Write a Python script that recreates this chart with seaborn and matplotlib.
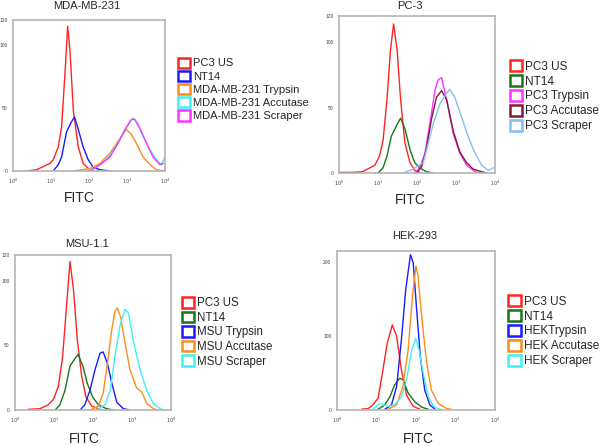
import numpy as np
import pandas as pd
import matplotlib
matplotlib.use('Agg')
import matplotlib.pyplot as plt
from matplotlib.patches import Rectangle
from matplotlib.ticker import FixedLocator, MultipleLocator, LogLocator, NullFormatter
import seaborn as sns

sns.set_style('white')
plt.rcParams['font.family'] = ['Liberation Sans', 'DejaVu Sans']

# ---- datos (x en log10 de FITC, y en número de células) ----
# MDA-MB-231
mda_us_x = [0.36, 0.62, 0.97, 1.06, 1.19, 1.28, 1.37, 1.44, 1.50, 1.59, 1.72, 1.85, 1.98, 2.11]
mda_us_y = [0, 1, 6, 9, 19, 35, 78, 115, 96, 48, 19, 6, 2, 0]
mda_nt_x = [1.06, 1.19, 1.28, 1.41, 1.52, 1.62, 1.72, 1.85, 1.98, 2.11, 2.29, 2.55]
mda_nt_y = [0, 5, 11, 31, 38, 43, 33, 19, 9, 3, 1, 0]
mda_try_x = [1.59, 2.03, 2.29, 2.55, 2.82, 2.99, 3.12, 3.25, 3.43, 3.61, 3.78, 4.0]
mda_try_y = [0, 2, 6, 14, 26, 33, 29, 22, 11, 5, 1, 0]
mda_acc_x = [1.94, 2.20, 2.46, 2.68, 2.90, 3.08, 3.17, 3.30, 3.43, 3.61, 3.78, 3.91, 4.0]
mda_acc_y = [0, 3, 9, 18, 30, 39, 42, 37, 27, 17, 9, 5, 11]
mda_scr_x = [2.03, 2.29, 2.55, 2.77, 2.95, 3.12, 3.21, 3.34, 3.52, 3.69, 3.87, 3.96]
mda_scr_y = [0, 5, 11, 22, 33, 41, 41, 34, 22, 11, 5, 6]

# PC-3
pc3_us_x = [0.02, 0.32, 0.60, 0.92, 1.04, 1.13, 1.23, 1.32, 1.40, 1.49, 1.58, 1.69, 1.82, 1.94, 2.07]
pc3_us_y = [0.5, 0.5, 1, 6, 13, 25, 56, 94, 114, 94, 56, 23, 8, 2, 0.5]
pc3_nt_x = [1.0, 1.13, 1.23, 1.34, 1.47, 1.58, 1.69, 1.82, 1.94, 2.07, 2.24, 2.42]
pc3_nt_y = [0, 4, 13, 28, 36, 42, 34, 18, 8, 4, 1, 0]
pc3_try_x = [1.94, 2.07, 2.20, 2.33, 2.46, 2.54, 2.63, 2.76, 2.93, 3.10, 3.27, 3.49, 3.61]
pc3_try_y = [0, 4, 15, 38, 63, 71, 73, 56, 30, 15, 6, 1, 0]
pc3_acc_x = [1.99, 2.12, 2.24, 2.37, 2.50, 2.63, 2.76, 2.93, 3.10, 3.27, 3.44, 3.66, 3.79]
pc3_acc_y = [0, 5, 18, 41, 58, 63, 56, 32, 16, 8, 3, 1, 0]
pc3_scr_x = [1.64, 1.90, 2.16, 2.29, 2.42, 2.59, 2.76, 2.84, 2.97, 3.14, 3.31, 3.49, 3.66, 3.83, 3.96]
pc3_scr_y = [0, 3, 8, 23, 38, 53, 61, 64, 58, 43, 28, 15, 6, 2, 4]

# MSU-1.1
msu_us_x = [0.34, 0.64, 0.85, 0.98, 1.11, 1.22, 1.32, 1.41, 1.50, 1.60, 1.71, 1.82, 1.97, 2.18]
msu_us_y = [0.5, 1, 4, 8, 18, 41, 80, 115, 93, 54, 26, 10, 3, 0.5]
msu_nt_x = [1.03, 1.15, 1.28, 1.41, 1.54, 1.62, 1.74, 1.85, 1.99, 2.14, 2.35, 2.52]
msu_nt_y = [0, 4, 15, 34, 40, 43, 34, 21, 10, 4, 1, 0]
msu_try_x = [1.67, 1.79, 1.92, 2.05, 2.18, 2.26, 2.37, 2.48, 2.61, 2.78, 2.95]
msu_try_y = [0, 4, 15, 31, 44, 45, 36, 21, 6, 1, 0]
msu_acc_x = [1.92, 2.14, 2.26, 2.37, 2.48, 2.56, 2.62, 2.71, 2.82, 2.95, 3.12, 3.25, 3.38, 3.55, 3.68]
msu_acc_y = [0, 3, 13, 36, 62, 76, 79, 72, 52, 31, 17, 14, 5, 1, 0]
msu_scr_x = [2.09, 2.31, 2.44, 2.56, 2.69, 2.82, 2.91, 3.03, 3.21, 3.38, 3.55, 3.72, 3.80]
msu_scr_y = [0, 4, 15, 41, 65, 78, 75, 54, 31, 15, 5, 1, 0]

# HEK-293
hek_us_x = [0.62, 0.79, 0.91, 1.04, 1.15, 1.27, 1.40, 1.51, 1.63, 1.76, 1.93, 2.10]
hek_us_y = [1, 2, 7, 16, 50, 90, 115, 100, 54, 20, 5, 1]
hek_nt_x = [1.04, 1.21, 1.34, 1.46, 1.59, 1.67, 1.80, 1.97, 2.14, 2.31]
hek_nt_y = [1, 7, 18, 34, 43, 41, 23, 11, 4, 1]
hek_try_x = [1.21, 1.38, 1.51, 1.63, 1.74, 1.86, 1.93, 2.01, 2.11, 2.22, 2.35, 2.48]
hek_try_y = [1, 7, 32, 95, 163, 210, 199, 140, 72, 27, 7, 1]
hek_acc_x = [1.29, 1.51, 1.67, 1.80, 1.91, 2.00, 2.05, 2.16, 2.27, 2.39, 2.56, 2.77, 2.90]
hek_acc_y = [1, 7, 32, 81, 154, 195, 181, 118, 63, 27, 9, 2, 1]
hek_scr_x = [0.91, 1.08, 1.17, 1.29, 1.46, 1.63, 1.76, 1.89, 1.99, 2.08, 2.18, 2.31, 2.44, 2.60]
hek_scr_y = [1, 9, 7, 5, 7, 18, 41, 81, 97, 81, 50, 18, 5, 1]

ROJO = '#ff2424'
AZUL = '#1a1aff'
NARANJA = '#ff8c1a'
CIAN = '#3ff0f5'
MAGENTA = '#ff33ff'
VERDE = '#1a741a'
GRANATE = '#7a1f3d'
CELESTE = '#85bdf2'

ANCHO, ALTO = 600, 446

PANELES = [
    {
        'titulo': 'MDA-MB-231', 'titulo_px': (87, 6), 'fitc_px': (79, 198),
        'pos': [0.0217, 0.6166, 0.253, 0.3386],
        'ymax': 120, 'ymaj': [0, 50, 100, 120], 'ymin': 10,
        'leyenda': (0.297, 0.871), 'tam_ley': 8.0,
        'series': [
            ('PC3 US', mda_us_x, mda_us_y, ROJO),
            ('NT14', mda_nt_x, mda_nt_y, AZUL),
            ('MDA-MB-231 Trypsin', mda_try_x, mda_try_y, NARANJA),
            ('MDA-MB-231 Accutase', mda_acc_x, mda_acc_y, CIAN),
            ('MDA-MB-231 Scraper', mda_scr_x, mda_scr_y, MAGENTA),
        ],
    },
    {
        'titulo': 'PC-3', 'titulo_px': (410, 6), 'fitc_px': (410, 200),
        'pos': [0.565, 0.612, 0.26, 0.352],
        'ymax': 120, 'ymaj': [0, 50, 100, 120], 'ymin': 10,
        'leyenda': (0.85, 0.865), 'tam_ley': 8.5,
        'series': [
            ('PC3 US', pc3_us_x, pc3_us_y, ROJO),
            ('NT14', pc3_nt_x, pc3_nt_y, VERDE),
            ('PC3 Trypsin', pc3_try_x, pc3_try_y, MAGENTA),
            ('PC3 Accutase', pc3_acc_x, pc3_acc_y, GRANATE),
            ('PC3 Scraper', pc3_scr_x, pc3_scr_y, CELESTE),
        ],
    },
    {
        'titulo': 'MSU-1.1', 'titulo_px': (87, 244), 'fitc_px': (84, 439),
        'pos': [0.025, 0.0807, 0.26, 0.3475],
        'ymax': 120, 'ymaj': [0, 50, 100, 120], 'ymin': 10,
        'leyenda': (0.303, 0.334), 'tam_ley': 8.3,
        'series': [
            ('PC3 US', msu_us_x, msu_us_y, ROJO),
            ('NT14', msu_nt_x, msu_nt_y, VERDE),
            ('MSU Trypsin', msu_try_x, msu_try_y, AZUL),
            ('MSU Accutase', msu_acc_x, msu_acc_y, NARANJA),
            ('MSU Scraper', msu_scr_x, msu_scr_y, CIAN),
        ],
    },
    {
        'titulo': 'HEK-293', 'titulo_px': (415, 236), 'fitc_px': (418, 439),
        'pos': [0.5617, 0.0807, 0.2633, 0.3565],
        'ymax': 215, 'ymaj': [0, 100, 200], 'ymin': 20,
        'leyenda': (0.847, 0.338), 'tam_ley': 8.5,
        'series': [
            ('PC3 US', hek_us_x, hek_us_y, ROJO),
            ('NT14', hek_nt_x, hek_nt_y, VERDE),
            ('HEKTrypsin', hek_try_x, hek_try_y, AZUL),
            ('HEK Accutase', hek_acc_x, hek_acc_y, NARANJA),
            ('HEK Scraper', hek_scr_x, hek_scr_y, CIAN),
        ],
    },
]

GRIS = '#b4b4b4'


def dibujar_panel(fig, panel):
    ax = fig.add_axes(panel['pos'])
    filas = []
    for nombre, xs, ys, color in panel['series']:
        for x, y in zip(xs, ys):
            filas.append({'serie': nombre, 'fitc': 10 ** x, 'cuenta': y})
    df = pd.DataFrame(filas)
    paleta = {n: c for n, _, _, c in panel['series']}
    sns.lineplot(data=df, x='fitc', y='cuenta', hue='serie', palette=paleta,
                 sort=False, estimator=None, linewidth=1.0, legend=False, ax=ax)
    ax.set_xscale('log')
    ax.set_xlim(1, 1e4)
    ax.set_ylim(0, panel['ymax'])
    ax.set_xlabel('')
    ax.set_ylabel('')
    ax.set_xticks([1, 10, 100, 1000, 10000])
    ax.set_xticklabels([r'$10^{%d}$' % i for i in range(5)])
    ax.xaxis.set_minor_locator(LogLocator(base=10, subs=np.arange(2, 10)))
    ax.xaxis.set_minor_formatter(NullFormatter())
    ax.yaxis.set_major_locator(FixedLocator(panel['ymaj']))
    ax.yaxis.set_minor_locator(MultipleLocator(panel['ymin']))
    ax.tick_params(axis='both', which='major', labelsize=3.5, labelcolor='#444444',
                   color=GRIS, length=3, width=0.8, pad=1)
    ax.tick_params(axis='both', which='minor', color=GRIS, length=1.5, width=0.6)
    for sp in ax.spines.values():
        sp.set_color(GRIS)
        sp.set_linewidth(1.2)

    tx, ty = panel['titulo_px']
    fig.text(tx / ANCHO, 1 - ty / ALTO, panel['titulo'], ha='center', va='center', fontsize=8)
    fx, fy = panel['fitc_px']
    fig.text(fx / ANCHO, 1 - fy / ALTO, 'FITC', ha='center', va='center', fontsize=10)

    manejadores = [Rectangle((0, 0), 1, 1, facecolor='white', edgecolor=c, linewidth=1.8)
                   for _, _, _, c in panel['series']]
    etiquetas = [n for n, _, _, _ in panel['series']]
    fig.legend(manejadores, etiquetas, loc='upper left', bbox_to_anchor=panel['leyenda'],
               frameon=False, fontsize=panel['tam_ley'], handlelength=1.05, handleheight=1.05,
               handletextpad=0.25, labelspacing=0.2, borderpad=0, borderaxespad=0)


def main():
    fig = plt.figure(figsize=(ANCHO / 100, ALTO / 100), dpi=100)
    for panel in PANELES:
        dibujar_panel(fig, panel)
    fig.savefig('out.png', dpi=100, facecolor='white')
    plt.close(fig)


if __name__ == '__main__':
    main()
